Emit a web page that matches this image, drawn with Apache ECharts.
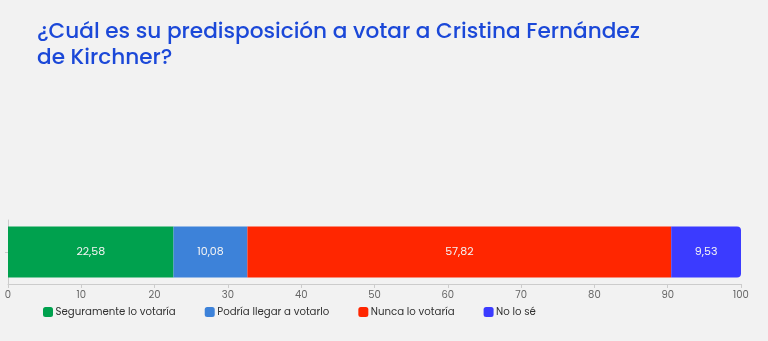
<!DOCTYPE html>
<html><head><meta charset="utf-8">
<script src="https://cdn.jsdelivr.net/npm/echarts@6/dist/echarts.min.js"></script>
<style>html,body{margin:0;padding:0;background:#f2f2f2;}#c{width:768px;height:341px;}</style>
</head><body><div id="c"></div>
<script>
const titleLines = ["¿Cuál es su predisposición a votar a Cristina Fernández", "de Kirchner?"];
const categories = ["CFK"];
const seriesNames = ["Seguramente lo votaría", "Podría llegar a votarlo", "Nunca lo votaría", "No lo sé"];
const seriesValues = [[22.58], [10.08], [57.82], [9.53]];
const seriesColors = ["#00a14e", "#3d82d9", "#ff2600", "#3b3bff"];
const xTicks = [0, 10, 20, 30, 40, 50, 60, 70, 80, 90, 100];

const FONT = 'Poppins, "Open Sans", sans-serif';
const chart = echarts.init(document.getElementById('c'), null, {renderer: 'canvas'});
const series = seriesNames.map((n, i) => ({
  name: n, type: 'bar', stack: 'total', data: seriesValues[i], barWidth: 51,
  itemStyle: {color: seriesColors[i], borderRadius: i === seriesNames.length - 1 ? [0, 4, 4, 0] : 0},
  label: {show: true, position: 'inside', color: '#f4f4f4', fontSize: 11, fontFamily: FONT,
    formatter: p => String(p.value).replace('.', ',')},
  emphasis: {disabled: true}
}));
chart.setOption({
  backgroundColor: '#f2f2f2',
  animation: false,
  title: {text: titleLines.join('\n'), left: 32, top: 15,
    textStyle: {color: '#1b48d8', fontSize: 21.6, fontWeight: 500, fontFamily: FONT, lineHeight: 26}},
  legend: {left: 38, top: 302, itemWidth: 10, itemHeight: 10, itemGap: 29, icon: 'roundRect',
    textStyle: {color: '#333', fontSize: 10.2, fontFamily: FONT, padding: [0, 0, 0, -2.5]},
    data: seriesNames},
  grid: {left: 8, right: 27, top: 220, bottom: 57, containLabel: false},
  xAxis: {type: 'value', min: xTicks[0], max: xTicks[xTicks.length - 1], interval: 10,
    axisLine: {show: true, lineStyle: {color: '#ccc'}}, axisTick: {show: true, length: 4, lineStyle: {color: '#ccc'}},
    splitLine: {show: false},
    axisLabel: {color: '#666', fontSize: 10, margin: 6, fontFamily: FONT}},
  yAxis: {type: 'category', data: categories, axisLine: {show: true, lineStyle: {color: '#ccc'}},
    axisTick: {show: true, alignWithLabel: true, length: 3, lineStyle: {color: '#ccc'}}, axisLabel: {show: false}},
  series: series
});
</script></body></html>
